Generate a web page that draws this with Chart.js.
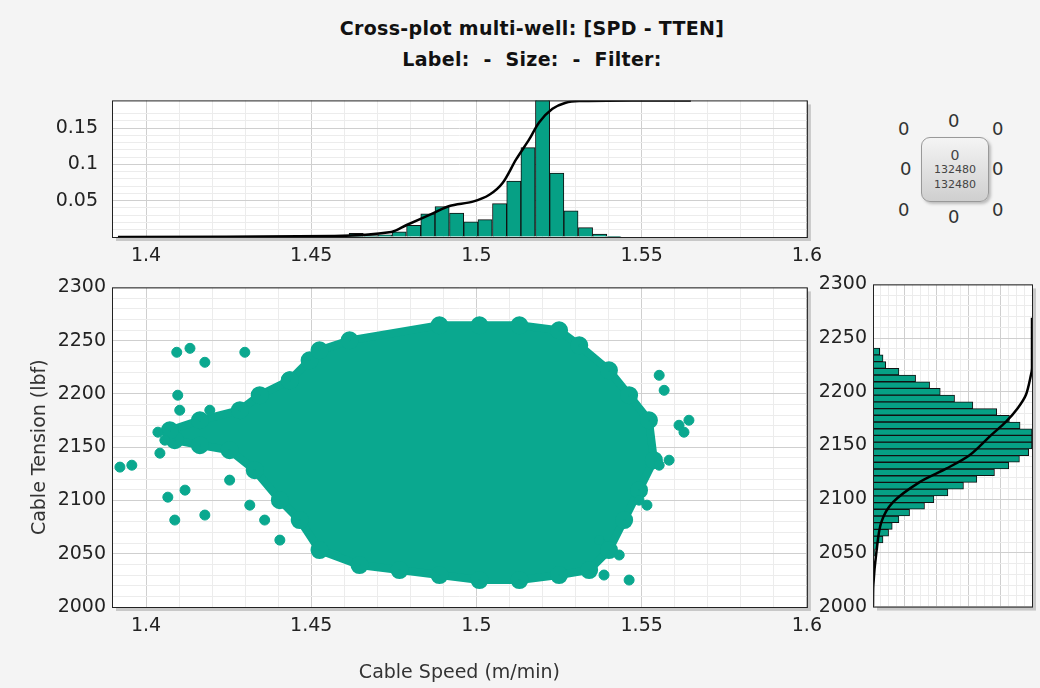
<!DOCTYPE html>
<html><head><meta charset="utf-8">
<script src="https://cdn.jsdelivr.net/npm/chart.js@4/dist/chart.umd.min.js"></script>
<style>
body{margin:0;background:#f4f4f4;font-family:"DejaVu Sans",sans-serif;}
#wrap{position:relative;width:1040px;height:688px;overflow:hidden;}
canvas{position:absolute;}
.t{position:absolute;left:0;width:1064px;text-align:center;font-weight:bold;font-size:19px;letter-spacing:0.3px;color:#111;}
#leg{position:absolute;left:921px;top:137px;width:66px;height:63px;border:1px solid #999;border-radius:9px;background:linear-gradient(#f4f4f4,#cfcfcf);box-shadow:2px 2px 3px #bbb;font-size:11px;color:#444;text-align:center;}
.z{position:absolute;font-size:18px;color:#333;}
</style></head><body>
<div id="wrap">
<div class="t" style="top:17px">Cross-plot multi-well: [SPD - TTEN]</div>
<div class="t" style="top:48px">Label:&nbsp; - &nbsp;Size:&nbsp; - &nbsp;Filter:</div>
<canvas id="top" width="830" height="200" style="left:0;top:75px"></canvas>
<canvas id="main" width="830" height="418" style="left:0;top:270px"></canvas>
<canvas id="side" width="230" height="357" style="left:810px;top:267px"></canvas>
<div id="leg"><div style="margin-top:9px;font-size:14px">0</div><div style="margin-top:0px">132480</div><div style="margin-top:2px">132480</div></div>
<div class="z" style="left:898px;top:118px">0</div><div class="z" style="left:948px;top:110px">0</div><div class="z" style="left:992px;top:118px">0</div>
<div class="z" style="left:900px;top:158px">0</div><div class="z" style="left:992px;top:158px">0</div>
<div class="z" style="left:898px;top:199px">0</div><div class="z" style="left:948px;top:206px">0</div><div class="z" style="left:992px;top:199px">0</div>
</div>
<script>
// speed histogram (top)
const speedBins = [1.4593,1.4636,1.4680,1.4723,1.4766,1.4810,1.4853,1.4896,1.4940,1.4983,1.5026,1.5070,1.5113,1.5156,1.5200,1.5243,1.5286,1.5330,1.5373,1.5416];
const speedFreq = [0.001,0.005,0.002,0.003,0.007,0.016,0.032,0.042,0.033,0.021,0.024,0.046,0.077,0.123,0.19,0.088,0.036,0.013,0.004,0.001];
const speedCdfX = [1.3915,1.4571,1.4742,1.4787,1.4868,1.4918,1.4989,1.5039,1.5079,1.5120,1.5160,1.5190,1.5230,1.5270,1.5311,1.5512,1.5649];
const speedCdfY = [0,0.007,0.037,0.086,0.173,0.227,0.259,0.309,0.395,0.568,0.716,0.840,0.938,0.983,0.995,1.0,1.0];
// tension histogram (right)
const tenBins = [2050,2056.25,2062.5,2068.75,2075,2081.25,2087.5,2093.75,2100,2106.25,2112.5,2118.75,2125,2131.25,2137.5,2143.75,2150,2156.25,2162.5,2168.75,2175,2181.25,2187.5,2193.75,2200,2206.25,2212.5,2218.75,2225,2231.25,2237.5];
const tenFreq = [0.01,0.031,0.063,0.098,0.121,0.163,0.23,0.324,0.383,0.471,0.569,0.653,0.764,0.854,0.921,0.979,1.0,1.0,1.0,0.925,0.858,0.778,0.628,0.513,0.423,0.356,0.268,0.163,0.08,0.063,0.042];
const tenCdfY = [2000,2020,2050.3,2078.4,2097.2,2115.9,2128.4,2140.9,2159.7,2172.2,2184.7,2197.2,2216,2222.2,2269];
const tenCdfX = [0,0.002,0.021,0.052,0.126,0.293,0.46,0.607,0.743,0.837,0.91,0.962,0.994,1.0,1.0];
// scatter: dense cloud outline (closed) + outliers
const cloudX = [1.4435,1.4495,1.4525,1.4616,1.4888,1.5009,1.5130,1.5250,1.5311,1.5401,1.5462,1.5522,1.5537,1.5492,1.5447,1.5401,1.5341,1.5250,1.5130,1.5009,1.4888,1.4767,1.4646,1.4525,1.4465,1.4405,1.4329,1.4253,1.4163,1.4087,1.4072,1.4163,1.4284,1.4344,1.4435];
const cloudY = [2212.8,2231.6,2240.9,2250.3,2264.4,2264.4,2264.4,2259.7,2245.6,2222.2,2198.8,2175.3,2137.8,2109.7,2081.6,2053.4,2034.7,2030,2025.3,2025.3,2030,2034.7,2039.4,2053.4,2081.6,2100.3,2128.4,2147.2,2151.9,2156.6,2165.9,2175.3,2184.7,2198.8,2212.8];
const outX = [1.3921,1.3957,1.4036,1.4042,1.4057,1.4093,1.4133,1.4178,1.4299,1.4096,1.4102,1.4193,1.4066,1.4118,1.4087,1.4178,1.4253,1.4314,1.4359,1.4405,1.5371,1.5432,1.5462,1.5386,1.5553,1.5568,1.5613,1.5643,1.5628,1.5583,1.5553,1.5516,1.5492];
const outY = [2131.3,2133.1,2164.1,2144.4,2156.6,2239.1,2242.8,2229.7,2239.1,2198.8,2184.7,2184.7,2103.1,2109.7,2081.6,2086.3,2119.1,2095.6,2081.6,2062.8,2062.8,2048.8,2025.3,2030,2217.5,2203.4,2170.6,2175.3,2164.1,2137.8,2133.1,2095.6,2100.3];

const TEAL = '#0aa88f', BAR = '#06a085';
const tickFont = {family:'DejaVu Sans', size:19};
const titleFont = {family:'DejaVu Sans', size:19};
const near = (v, s) => Math.abs(v / s - Math.round(v / s)) < 1e-6;
const gridCol = (s) => c => c.tick && near(c.tick.value, s) ? '#cfcfcf' : '#ececec';
const stepTicks = (s) => ax => { ax.ticks = ax.ticks.filter(t => near(t.value, s)); };

const plotBg = {
  id: 'plotBg',
  beforeDraw(ch) {
    const {ctx, chartArea: a} = ch;
    ctx.save();
    ctx.fillStyle = '#c8c8c8';
    ctx.fillRect(a.left + 4, a.top + 4, a.right - a.left, a.bottom - a.top);
    ctx.fillStyle = '#fff';
    ctx.fillRect(a.left, a.top, a.right - a.left, a.bottom - a.top);
    ctx.restore();
  },
  afterDraw(ch) {
    const {ctx, chartArea: a} = ch;
    ctx.save();
    ctx.strokeStyle = '#222'; ctx.lineWidth = 1;
    ctx.strokeRect(a.left + 0.5, a.top + 0.5, a.right - a.left, a.bottom - a.top);
    ctx.restore();
  }
};

const xSpeed = (h, title) => ({
  type: 'linear', min: 1.3897, max: 1.6, offset: false,
  afterBuildTicks: stepTicks(0.01),
  afterFit: s => { s.height = h; },
  grid: {color: gridCol(0.05), drawTicks: false, offset: false},
  border: {display: false},
  ticks: {stepSize: 0.01, font: tickFont, color: '#222', padding: 8, maxRotation: 0, autoSkip: false,
    callback: v => near(v, 0.05) ? String(+v.toFixed(2)) : ''},
  title: title ? {display: true, text: title, font: titleFont, color: '#333', padding: {top: 16}} : {display: false}
});
const yTen = (w, title) => ({
  type: 'linear', min: 2000, max: 2300, offset: false,
  afterBuildTicks: stepTicks(10),
  afterFit: s => { s.width = w; },
  grid: {color: gridCol(50), drawTicks: false, offset: false},
  border: {display: false},
  ticks: {stepSize: 10, font: tickFont, color: '#222', padding: 6, autoSkip: false,
    callback: v => near(v, 50) ? String(v) : ''},
  title: title ? {display: true, text: title, font: titleFont, color: '#333', padding: {bottom: 4}} : {display: false}
});

new Chart(document.getElementById('top'), {
  data: {datasets: [
    {type: 'line', data: speedCdfX.map((x, i) => ({x, y: speedCdfY[i]})), yAxisID: 'c',
     borderColor: '#000', borderWidth: 2.5, pointRadius: 0, tension: 0.3},
    {type: 'bar', data: speedBins.map((x, i) => ({x, y: speedFreq[i]})),
     backgroundColor: BAR, borderColor: '#111', borderWidth: 1, barPercentage: 1, categoryPercentage: 1}
  ]},
  options: {responsive: false, animation: false,
    layout: {padding: {top: 10, right: 22}},
    plugins: {legend: {display: false}, tooltip: {enabled: false}},
    scales: {
      x: xSpeed(38),
      y: {min: 0, max: 0.188, afterBuildTicks: ax => { ax.ticks = ax.ticks.filter(t => Math.round(t.value * 1000) % 10 === 0); },
        afterFit: s => { s.width = 112; },
        grid: {color: c => [0.05, 0.1, 0.15].some(v => Math.abs(c.tick.value - v) < 1e-6) ? '#cfcfcf' : '#ececec', drawTicks: false},
        border: {display: false},
        ticks: {stepSize: 0.01, font: tickFont, color: '#222', padding: 14, autoSkip: false,
          callback: v => [0.05, 0.1, 0.15].some(k => Math.abs(v - k) < 1e-6) ? String(+v.toFixed(2)) : ''}},
      c: {min: 0, max: 1, display: false}
    }},
  plugins: [plotBg]
});

new Chart(document.getElementById('main'), {
  type: 'scatter',
  data: {datasets: [
    {data: outX.map((x, i) => ({x, y: outY[i]})), backgroundColor: TEAL, borderColor: TEAL, pointRadius: 5},
    {type: 'line', data: cloudX.map((x, i) => ({x, y: cloudY[i]})), backgroundColor: TEAL, borderColor: TEAL,
     borderWidth: 8, pointRadius: 5, pointBackgroundColor: TEAL, fill: 'shape', tension: 0}
  ]},
  options: {responsive: false, animation: false,
    layout: {padding: {top: 17, right: 22, left: 25}},
    plugins: {legend: {display: false}, tooltip: {enabled: false}},
    scales: {x: xSpeed(81, 'Cable Speed (m/min)'), y: yTen(87, 'Cable Tension (lbf)')}},
  plugins: [plotBg]
});

new Chart(document.getElementById('side'), {
  data: {datasets: [
    {type: 'line', data: tenCdfX.map((x, i) => ({x, y: tenCdfY[i]})), borderColor: '#000', borderWidth: 2.5,
     pointRadius: 0, tension: 0.3},
    {type: 'bar', data: tenBins.map((y, i) => ({x: tenFreq[i], y})), backgroundColor: BAR, borderColor: '#111',
     borderWidth: 1, barPercentage: 1, categoryPercentage: 1}
  ]},
  options: {responsive: false, animation: false, indexAxis: 'y',
    layout: {padding: {top: 17, right: 8, bottom: 9}},
    plugins: {legend: {display: false}, tooltip: {enabled: false}},
    scales: {
      x: {type: 'linear', min: 0, max: 1, afterFit: s => { s.height = 0; },
        grid: {color: c => Math.round(c.tick.value * 100) % 20 === 0 ? '#cfcfcf' : '#ececec', drawTicks: false},
        border: {display: false}, ticks: {stepSize: 0.05, display: false}},
      y: yTen(63)
    }},
  plugins: [plotBg]
});
</script>
</body></html>
